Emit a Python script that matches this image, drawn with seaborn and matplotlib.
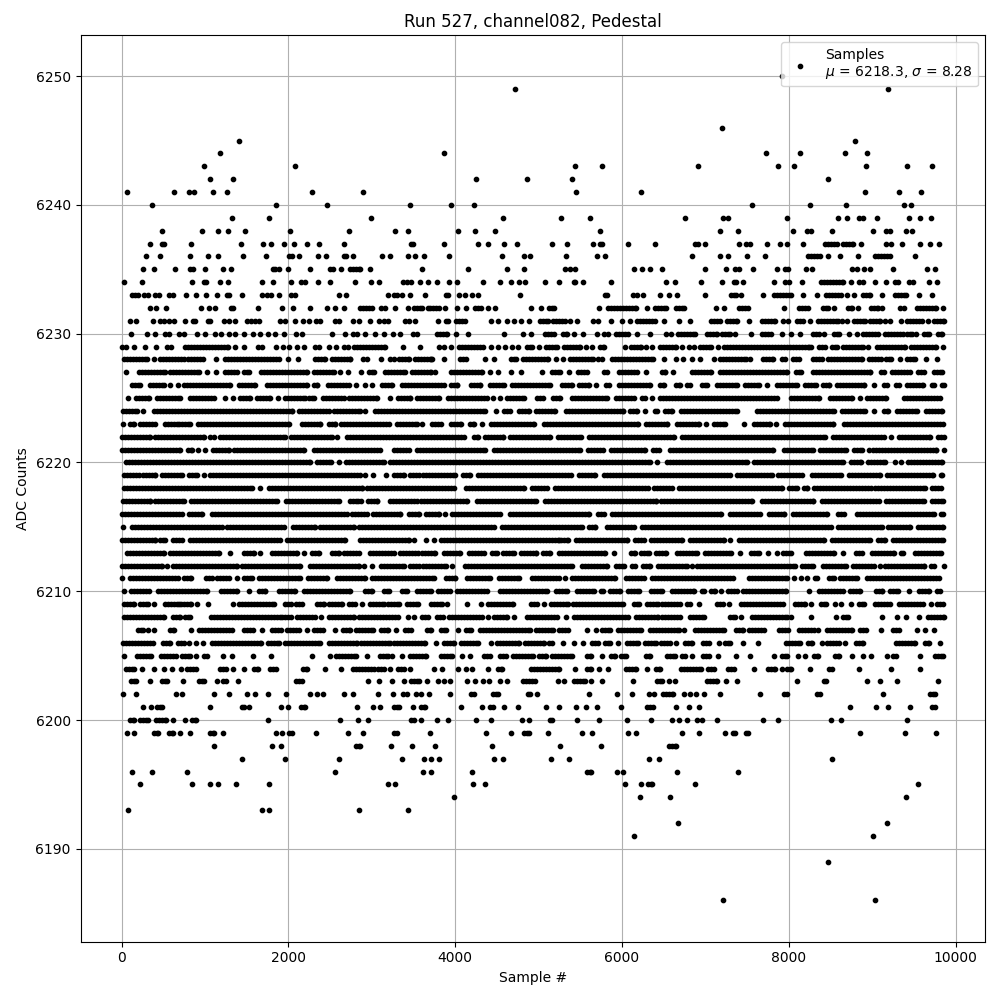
import numpy as np
import pandas as pd
import seaborn as sns
import matplotlib
matplotlib.use("Agg")
import matplotlib.pyplot as plt

TITLE = "Run 527, channel082, Pedestal"
XLABEL = "Sample #"
YLABEL = "ADC Counts"
LEGEND = "Samples\n$\\mu$ = 6218.3, $\\sigma$ = 8.28"

# One list per ADC level, sample numbers.
# An int is one visible dot; a (start, end) pair is a stretch of merged dots.
L6250 = [7916]
L6249 = [4716, 9188]
L6246 = [7196]
L6245 = [1404, 8792]
L6244 = [1176, 3864, 7724, 8132, 8672, 8936]
L6243 = [984, 2076, 5436, 5760, 6912, 7868, 8060, 8924, 9416, 9716]
L6242 = [1056, 1332, 4248, 4860, 5400, 8468]
L6241 = [60, 624, 804, 864, 1092, 1260, 2280, 2892, 5448, 6228, 8912, 9320, 9584]
L6240 = [360, 1848, 2460, 3456, 3948, 4224, 7556, 8252, 8684, 9380, 9464]
L6239 = [1320, 1764, 2988, 4572, 5268, 5616, 6756, 7208, 7268, 7976, 8588, 8696, 8840, 8888, 9056, 9440, 9572, 9704]
L6238 = [480, 960, 1152, 1272, 1476, 2016, 2724, 3276, 3432, 4032, 4236, 4476, 5736, 7172, 7388, 8048, 8216, 8264, 8516, 9008, 9164, 9212, 9404, 9476]
L6237 = [336, 480, 504, 828, 1428, 1692, 1788, 1944, 2064, 2220, 2364, 2664, 3468, 3492, 3864, 4272, 4392, 4584, 4740, 5160, 5340, 5652, 5736, 5760, 6072, 6396, 6876, 6912, 6992, 7400, 7484, 7532, 7744, 7892, 7976, 8168, (8432, 8576), (8648, 8768), 8864, 9164, 9224, 9356, 9572, 9692, 9800]
L6236 = [288, 456, 816, 1032, 1152, 1452, 1728, 2004, 2040, 2124, 2352, 2448, 2664, 2696, 2772, 3120, 3216, 3432, 3516, 3624, 3924, 4560, 4824, 4896, 5328, 5700, 5796, 6840, 7172, 7268, 7496, 7712, (8228, 8372), 8468, 8612, 8828, (9032, 9212), 9512]
L6235 = [252, 384, 636, 824, 856, 1004, 1212, 1308, 1812, 1844, 1884, 1992, 2256, 2496, 2532, 2628, (2736, 2856), 2976, 3600, 4152, 4620, 4824, 5316, 5376, 5436, 6144, 6240, 6336, 6480, 6992, 7244, 7352, 7400, 7568, 7856, 7952, 7988, 8204, 8276, 8756, 8816, 8900, 8972, 9248, 9656, 9752]
L6234 = [24, 240, 844, 984, 1008, 1176, 1272, 1680, 1812, 2028, 2148, 2196, 2352, 2496, 2804, 2988, 3084, 3372, 3420, 3476, 3576, 3672, 3780, 3924, 4020, 4332, 4536, 4668, 4764, 4836, 5076, 5244, 5424, 5440, 5532, 5868, 6528, 6636, 6948, 7200, 7340, 7364, 7448, 7820, 7952, 8000, 8156, (8384, 8648), 8744, 8840, 8888, 9032, 9164, 9272, 9308, 9440, 9488, 9680, 9776]
L6233 = [(120, 192), 264, 312, 404, 444, 564, 612, 768, 888, 1008, 1140, 1260, 1284, 1440, 1680, 1740, 1788, 1884, 2028, 2076, 2604, 2688, 3192, 3264, 3300, 3360, 3456, 3636, 3888, 3912, 4044, 4116, 4200, 4272, 4776, 5796, 5820, 6132, 6180, 6252, 6456, 6564, 6660, 6992, (7304, 7364), 7424, 7688, (7820, 8024), 8168, 8336, (8444, 8624), 8696, 8780, (8888, 8972), 9116, (9272, 9404), 9560, 9716]
L6232 = [336, 408, 528, 948, 1044, 1116, 1308, 1332, 1632, 1920, 2052, 2256, 2460, 2556, 2664, (2856, 3000), 3108, 3156, 3276, 3432, (3504, 3600), 3672, (3700, 3800), 3876, 4020, 4128, (4236, 4308), 4392, 4476, 4908, 5028, (5124, 5184), 5724, (5832, 6172), 6300, (6396, 6528), (6648, 6744), 7124, 7220, (7400, 7508), 7940, (8120, 8228), (8408, 8468), 8540, (8708, 8756), 8828, (8984, 9068), 9116, 9332, 9380, (9536, 9764), 9848]
L6231 = [96, 168, 372, 456, 504, 564, 624, 756, 852, 876, 1032, 1056, 1224, 1284, 1356, 1500, 1548, 1596, 1644, 1896, 1956, 2076, 2172, 2244, 2328, 2384, 2556, 2604, 2772, 2844, 2976, 3084, 3144, 3192, 3396, 3444, 3516, 3792, 3888, 3912, (4012, 4112), 4428, 4512, 4620, 4704, 4788, 4884, (5016, 5112), (5172, 5316), 5376, 5460, 5652, 5712, 5868, 6000, 6096, (6180, 6396), 6508, 6684, 6816, (7064, 7172), (7256, 7376), 7520, (7676, 7832), 7928, 7988, (8096, 8168), 8252, (8348, 8588), 8636, 8696, (8780, 8912), (8972, 9092), 9152, 9212, 9344, (9416, 9596), 9668, (9740, 9860)]
L6230 = [116, 300, 404, 516, 564, 684, 744, 900, 996, 1116, 1188, 1284, 1356, 1464, 1572, 1656, 1752, 1836, 1944, 2088, 2160, 2520, 2684, 2772, 2820, 2916, 3036, 3144, 3252, 3344, 3492, 3540, (3780, 3900), 4004, 4152, 4584, 4812, 4908, (5076, 5184), (5292, 5340), 5424, 5532, 5700, 5784, 5832, (5932, 6072), 6180, 6336, 6528, 6588, (6672, 6876), (7016, 7136), (7196, 7292), 7352, 7544, (7676, 7784), 7916, 8024, 8132, (8288, 8360), 8420, (8540, 8600), 8720, 8816, (8888, 9068), (9152, 9368), (9416, 9476), 9524, (9620, 9680), (9788, 9836)]
L6229 = [0, 48, 144, 276, 408, 540, 592, (756, 1272), 1356, 1464, 1632, 1680, 1848, 1932, 2004, 2100, 2188, 2316, 2364, 2484, 2568, 2664, 2712, (2784, 3156), 3372, 3576, 3804, 3864, 3948, (4044, 4332), 4428, 4512, 4596, 4684, 4752, (4860, 4920), 5004, (5088, 5220), (5304, 5492), 5568, 5640, (5736, 5784), 6036, (6108, 6228), 6288, 6360, (6456, 6648), 6720, 6804, 6864, (6936, 7064), 7148, (7220, 8240), 8264, (8360, 8432), (8516, 8576), (8648, 8888), 8948, (9056, 9392), (9464, 9764), 9848]
L6228 = [(24, 304), 384, (456, 744), (792, 972), 1132, (1244, 1884), 1992, 2112, (2316, 2436), (2520, 2744), 2892, 2940, 3108, 3216, 3264, (3324, 3444), (3516, 3704), 3720, 3864, (4056, 4128), 4356, 4460, (4668, 4728), (4812, 5112), 5208, 5292, (5376, 5652), 5712, 5760, (5880, 6372), 6504, 6648, 6732, 6840, 6940, 7100, (7172, 7484), 7532, (7688, 7808), (7916, 7952), (8048, 8120), (8288, 8396), (8468, 8876), (8960, 9104), (9164, 9224), 9332, (9416, 9512), 9644, 9776]
L6227 = [48, (204, 524), (576, 928), 1024, 1132, (1244, 1384), (1464, 1524), (1676, 2224), (2304, 2544), 2616, 2712, 2868, (2964, 3024), (3164, 3404), (3484, 3704), 3756, (3944, 4320), 4412, 4512, 4672, 4784, 5036, (5164, 5260), 5360, (5476, 5580), (5784, 5820), (5964, 6180), 6292, (6476, 6520), 6612, (6844, 7064), (7172, 7984), (8088, 8144), (8288, 8976), (9108, 9136), (9232, 9448), (9552, 9616), (9740, 9836)]
L6226 = [(124, 216), (336, 504), 576, 672, (744, 1304), (1404, 1604), (1744, 2224), (2304, 2344), (2472, 2724), 2816, 2924, 3004, (3124, 3244), (3364, 3860), (3944, 4020), (4184, 4300), (4412, 4580), (4676, 5140), (5276, 5400), (5484, 5600), 5684, (5804, 5840), (5964, 6340), (6452, 6500), (6644, 6700), (6784, 6820), (6956, 7024), (7140, 7384), (7480, 7648), 7736, (7860, 8096), (8192, 8324), (8412, 8488), (8580, 8908), 9020, (9140, 9176), (9288, 9316), (9420, 9608), (9712, 9736), (9840, 9856)]
L6225 = [72, (176, 324), (424, 696), (816, 1104), 1244, 1332, (1416, 1544), (1624, 1784), 1872, (1964, 2204), (2244, 2304), (2416, 2664), (2724, 3064), 3216, (3316, 3464), (3544, 3800), (3916, 4380), 4452, 4532, (4624, 4828), (4984, 5052), (5172, 5260), (5404, 5820), (5924, 6140), (6244, 6280), 6364, (6452, 7856), (8032, 8368), (8500, 8756), 8856, (8940, 9168), (9380, 9808)]
L6224 = [(16, 184), 256, (384, 2044), (2124, 2484), (2544, 2864), 2916, (3036, 4360), 4492, (4584, 4652), (4764, 4880), (4964, 5200), (5324, 6012), (6092, 6180), 6280, (6392, 6420), (6516, 6600), (6704, 7384), (7620, 8544), (8640, 8916), 9020, (9140, 9184), (9300, 9536), (9648, 9836)]
L6223 = [12, (96, 144), (224, 404), (524, 684), (724, 824), (912, 2004), (2164, 2384), (2484, 2564), (2632, 3204), (3304, 3544), 3604, (3724, 3828), (3944, 4068), (4172, 4220), 4320, (4424, 4940), (5068, 6192), (6284, 6540), (6664, 6920), 7012, (7100, 7236), 7468, (7580, 7776), 7848, (7952, 8536), (8660, 9848)]
L6222 = [(4, 344), (404, 984), 1056, 1104, (1176, 1964), (2032, 2524), 2584, (2704, 4100), (4224, 4268), (4352, 4572), (4652, 5140), (5236, 5508), (5604, 6620), (6716, 8436), (8528, 9136), 9228, (9320, 9696), (9792, 9856)]
L6221 = [(4, 704), (792, 844), 916, 1004, (1096, 1284), (1344, 2184), (2312, 3104), (3264, 3444), (3544, 4360), (4468, 5500), (5592, 5772), (5864, 6280), (6376, 6440), (6572, 7816), (7940, 8296), (8380, 8688), (8780, 8884), (8968, 9768), 9860]
L6220 = [(56, 2264), (2344, 2512), 2608, (2696, 3144), (3216, 6340), 6420, (6536, 7504), (7588, 8648), (8748, 8864), (8952, 9156), 9276, 9344, (9424, 9836)]
L6219 = [(24, 204), (256, 404), (484, 724), (804, 904), 984, (1064, 2864), 2924, 3016, 3172, (3264, 3384), (3464, 4000), (4096, 4180), (4276, 5388), (5484, 5680), (5784, 7296), (7380, 7796), (7872, 8156), (8280, 8624), (8720, 9096), (9180, 9728), (9820, 9836)]
L6218 = [(24, 1564), 1664, (1764, 2884), (2944, 3988), (4132, 4820), (4924, 5100), (5196, 6312), (6384, 6600), (6684, 7916), (8008, 8096), (8180, 8224), (8308, 9636), (9720, 9828)]
L6217 = [(16, 344), (404, 744), (832, 1864), (1976, 2604), (2744, 2832), 2872, (2952, 3064), (3224, 4140), (4256, 4972), (5076, 6412), (6468, 7560), (7680, 8296), (8400, 9076), (9168, 9616), (9720, 9848)]
L6216 = [(4, 724), (804, 964), (1084, 2704), (2764, 2944), (3016, 3344), (3444, 3564), (3644, 3800), 3872, (3964, 4540), (4652, 5600), (5716, 5780), (5884, 7184), (7300, 7656), (7760, 7944), (8048, 8456), (8592, 8664), (8820, 9736), (9820, 9848)]
L6215 = [16, (124, 1204), (1264, 1944), (2056, 2324), (2384, 2784), (2844, 4460), (4556, 5520), (5604, 5680), (5816, 6140), (6236, 8504), (8592, 9116), (9192, 9448), (9552, 9848)]
L6214 = [(4, 404), (464, 524), (616, 724), (824, 1904), (1984, 2684), (2856, 3444), 3504, 3644, 3740, (3824, 5240), (5264, 5348), (5444, 6060), (6156, 6260), (6344, 6720), (6816, 7224), 7296, (7400, 8428), (8520, 8976), (9072, 9156), (9248, 9848)]
L6213 = [(64, 504), (584, 1164), 1304, (1464, 1584), 1664, (1804, 2104), 2184, (2284, 2364), (2524, 2604), (2664, 2844), (2976, 3264), (3344, 3760), (3864, 4060), (4164, 4340), (4444, 4500), (4576, 4700), (4784, 4972), (5052, 5132), (5244, 5800), 5908, (6104, 6152), (6224, 6320), (6404, 6532), (6664, 6900), (6996, 7304), 7420, (7552, 7640), 7756, 7856, (7932, 8024), (8212, 8544), 8648, (8812, 8876), (9000, 9256), (9340, 9368), (9512, 9824)]
L6212 = [(4, 484), 544, (616, 1384), (1444, 2144), (2264, 2844), 2904, 3004, (3116, 3384), (3464, 3892), 3960, (4116, 5400), (5524, 5820), (5924, 6020), (6124, 6160), (6256, 6340), (6436, 6780), 6840, (6904, 8076), (8160, 8288), (8412, 8684), (8772, 9016), 9088, (9152, 9624), (9700, 9736), 9856]
L6211 = [4, (96, 672), (744, 832), (1016, 1084), (1144, 1284), 1384, (1464, 1564), (1644, 2144), (2232, 2464), (2584, 2924), (3004, 3740), (3884, 4000), (4144, 4412), (4524, 4760), (4924, 5240), 5316, (5404, 5920), (6052, 6260), (6356, 7328), (7520, 7976), 8060, 8148, 8216, (8320, 8344), (8488, 8544), (8620, 8824), (8940, 9796)]
L6210 = [24, (112, 324), (432, 1024), (1192, 1384), 1524, (1644, 1724), (1884, 2084), (2192, 2744), (2924, 3004), (3144, 3204), (3364, 3424), (3544, 3704), (3796, 3932), (4024, 4380), (4532, 5100), (5204, 5340), (5464, 5660), (5744, 5772), (5856, 5980), (6076, 6200), (6344, 6480), (6604, 6860), (6956, 6984), (7072, 7116), 7188, (7272, 7376), (7448, 7968), 8248, (8360, 8648), (8740, 8856), (9040, 9116), (9208, 9308), 9440, (9560, 9676), (9772, 9808)]
L6209 = [(24, 144), (216, 312), 392, (516, 684), (716, 828), 900, 1032, 1332, (1404, 1824), (1956, 2028), (2088, 2160), (2340, 2424), (2484, 2640), (2724, 2796), 2880, (2976, 3144), (3192, 3324), (3420, 3552), (3708, 3840), 3900, 4144, 4308, (4392, 4692), (4908, 4980), 5064, (5148, 5352), (5412, 6012), (6144, 6204), (6300, 6432), (6480, 6696), (6780, 6816), 6924, (7136, 7208), 7280, (7424, 7928), (8072, 8192), 8264, (8384, 8444), 8552, 8624, 8744, (8840, 8900), (9032, 9212), (9320, 9608), 9704, (9776, 9848)]
L6208 = [(24, 504), (612, 696), (756, 816), (1068, 1924), (1956, 2028), (2100, 2316), 2388, (2484, 2784), (2844, 3312), 3432, 3504, (3600, 3672), (3780, 3852), (3924, 4320), 4392, (4464, 4620), 4704, (4860, 5220), 5328, (5424, 6072), (6168, 6432), (6480, 6696), (6816, 6980), (7292, 7352), 7424, (7556, 7976), 8024, 8264, 8564, (8648, 8708), 9116, 9296, 9404, 9560, (9668, 9860)]
L6207 = [(192, 252), 312, 384, (576, 624), 828, (924, 1320), (1464, 1572), 1680, (1800, 1908), (1980, 2124), 2220, (2304, 2412), 2556, (2652, 2736), (2808, 3012), (3108, 3192), 3288, (3396, 3468), (3660, 3708), (3828, 3888), 4032, (4128, 4188), (4296, 4896), (4968, 5172), (5244, 5352), 5580, 5688, (5760, 5856), (5952, 6228), (6336, 6684), 6744, (6876, 7220), (7364, 7448), (7520, 7700), (7880, 7988), (8120, 8300), 8348, (8456, 8756), (8852, 8924), 9104, (9248, 9320), 9536, 9632, 9740]
L6206 = [(12, 372), (492, 576), (672, 744), 804, 888, 972, (1080, 1668), (1752, 1884), (1956, 2376), (2484, 2820), (2868, 3216), (3264, 3636), 3768, (3864, 3984), (4068, 4272), 4428, (4500, 4764), (4836, 5064), (5124, 5160), 5292, 5424, 5532, (5640, 5712), (5796, 5856), 5952, (6060, 6192), (6276, 6408), (6468, 6576), 6648, (6756, 6840), (6972, 7040), 7160, (7232, 7292), 7448, 7628, (7964, 8132), (8228, 8276), 8396, (8456, 8600), 8672, (8804, 8888), (9284, 9512), (9632, 9680), 9812]
L6205 = [24, (180, 348), (468, 648), (720, 792), 816, 888, 984, 1024, 1212, 1320, 1572, 1788, 2280, 2496, (2568, 2808), 2940, (3096, 3192), 3240, 3360, (3456, 3648), (3828, 3960), 4080, 4176, (4344, 4416), (4536, 4608), (4692, 4932), (5004, 5088), (5160, 5400), (5580, 5628), 5760, (5868, 5916), (5988, 6048), (6288, 6336), (6540, 6636), (6720, 6756), 6840, (6972, 7040), 7148, 7364, 7532, 7820, (7916, 7976), 8108, 8192, (8300, 8348), (8552, 8600), 8756, 8888, 8984, 9176, (9248, 9284), 9572, (9752, 9848)]
L6204 = [(48, 144), 240, 384, 504, 600, 708, (780, 888), (1176, 1248), 1332, 1464, (1584, 1632), (1776, 1848), (2172, 2220), 2436, 2628, (2772, 3024), (3072, 3144), 3216, (3312, 3384), 3456, 3744, 3840, 4032, 4128, 4200, 4392, (4512, 4560), (4908, 5244), 5436, (5580, 5628), 5724, 5832, (6048, 6168), 6300, (6408, 6456), (6708, 6944), (7028, 7100), (7268, 7340), 7580, (7748, 7832), 7916, (7976, 8024), 8252, (8480, 8516), 8840, 9224, 9572]
L6203 = [(108, 168), 336, (480, 540), 732, (924, 984), 1140, (1212, 1248), 1392, (2088, 2160), 2952, 3084, 3240, 3384, (3468, 3564), 3660, 3792, 3864, 3936, 4140, 4236, 4332, 4404, 4536, 4620, (4812, 4956), 5232, 5304, (5424, 5556), 5628, 5760, 6132, (6420, 6480), 6564, 6636, 7020, (7060, 7136), 7244, 7376, 8096, (8420, 8444), 8936, 9092, 9296, 9788]
L6202 = [12, 168, 648, 720, 1104, 1284, 1500, 1596, 1752, 1968, 2256, 2340, 2412, 2664, 2772, 3072, 3252, 3372, 3420, 3528, 3588, 3684, 3936, (4188, 4224), (4452, 4512), (4872, 4896), 4980, 5604, 5940, 6116, 6324, 6384, (6492, 6612), 6744, 6816, 6888, 6984, 7172, 7652, (7940, 7976), (8336, 8372), 9128, (9692, 9752)]
L6201 = [252, 348, (420, 480), 1056, 1440, 1464, 1524, 1908, 1992, (2148, 2196), 2820, 3012, 3096, (3264, 3324), 3492, (3588, 3636), 4068, 4320, (4416, 4452), 4584, 4752, 5088, 5244, 5448, 5568, 5700, 5988, (6300, 6372), 6648, 6804, 6924, 8732, 9044, 9188, 9452, (9716, 9752)]
L6200 = [(96, 144), (216, 312), (408, 528), 612, 756, (840, 888), 1752, 2616, 2832, 2952, (3468, 3504), 3588, 3780, 3912, 4248, 4428, 4800, 4884, (5136, 5160), 5460, 5724, 6060, 6348, 6600, 6684, 6780, 6900, 6960, 7136, 7688, 7868, 8504, 8624, 9416]
L6199 = [60, 144, (384, 432), (564, 612), 696, 816, (1056, 1104), 1212, 1848, 1920, (2004, 2040), 2328, 2712, 2892, (3264, 3300), 3696, 4368, 4668, (4824, 4884), 5112, 5520, 5640, 6072, 6168, 6720, 6924, 7232, (7328, 7352), (7484, 7508), 8852, 9392, 9764]
L6198 = [1104, 1800, 1908, (2808, 2856), 3228, 3480, 3756, 4440, 5256, 5748, (6568, 6648)]
L6197 = [1440, 1956, 2604, 3360, 3624, 3708, 3804, 4464, 4572, 5148, 5364, 6324, 6444, 8516]
L6196 = [120, 360, 780, 2556, 3612, 3708, 4200, (5580, 5628), 5940, 6012, 6660, 7388]
L6195 = [216, 840, 1056, 1152, 1368, 1764, 3192, 3276, 4212, 4356, 6036, 6228, (6312, 6360), 6876, 9548]
L6194 = [3984, 6216, 6576, 9404]
L6193 = [72, 1680, 1764, 2844, 3432]
L6192 = [6672, 9176]
L6191 = [6144, 9008]
L6189 = [8468]
L6186 = [7208, 9032]

RUN_STEP = 36  # spacing that reproduces a merged stretch of dots


def expand(row):
    xs = []
    for item in row:
        if isinstance(item, tuple):
            xs.extend(range(item[0], item[1], RUN_STEP))
            xs.append(item[1])
        else:
            xs.append(item)
    return xs


xs, ys = [], []
for level in range(6186, 6251):
    row = globals().get(f"L{level}")
    if row:
        pts = expand(row)
        xs.extend(pts)
        ys.extend([level] * len(pts))

df = pd.DataFrame({"sample": xs, "adc": ys})

fig, ax = plt.subplots(figsize=(10, 10), dpi=100)
sns.scatterplot(data=df, x="sample", y="adc", ax=ax, marker=".", s=38, color="k",
                edgecolor="k", linewidth=1, zorder=2, label=LEGEND, legend=False)
ax.grid(True)
ax.set_title(TITLE)
ax.set_xlabel(XLABEL)
ax.set_ylabel(YLABEL)
ax.set_xticks([0, 2000, 4000, 6000, 8000, 10000])
ax.set_yticks(list(range(6190, 6251, 10)))
ax.ticklabel_format(useOffset=False, style="plain", axis="y")
ax.legend(loc="upper right")
fig.subplots_adjust(left=0.0805, right=0.985, top=0.965, bottom=0.0585)
fig.savefig("out.png", dpi=100)
